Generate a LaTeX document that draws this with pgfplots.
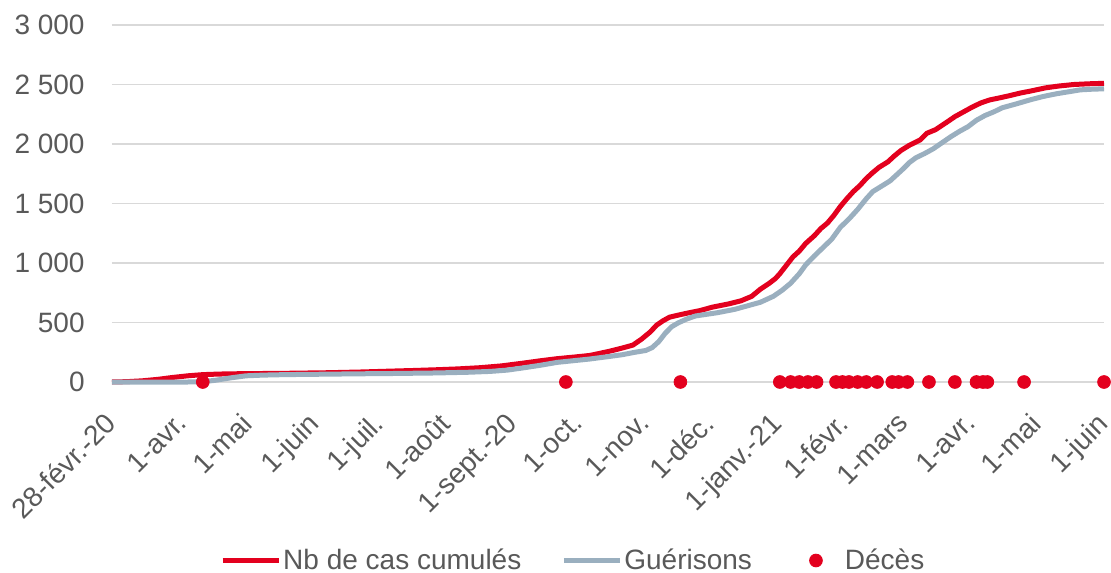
\documentclass[border=0pt]{standalone}
\usepackage{pgfplots}
\pgfplotsset{compat=1.18}
\usepackage{fontspec}
\setmainfont{Liberation Sans}
\definecolor{cred}{RGB}{227,0,30}
\definecolor{cgray}{RGB}{154,175,191}
\definecolor{ctext}{RGB}{89,89,89}
\definecolor{cgrid}{RGB}{217,217,217}
\begin{document}
\begin{tikzpicture}
\useasboundingbox (-56pt,-95pt) rectangle (499.5pt,191pt);
\begin{axis}[
  at={(0,0)}, anchor=south west,
  scale only axis, width=496pt, height=178.5pt,
  xmin=0, xmax=459, ymin=0, ymax=3000,
  clip=false,
  axis line style={draw=none},
  tick style={draw=none},
  ymajorgrids, grid style={cgrid, line width=0.75pt},
  ytick={0,500,1000,1500,2000,2500,3000},
  xtick={0,33,63,94,124,155,186,216,247,277,308,339,367,398,428,459},
  xticklabels={28-févr.-20,1-avr.,1-mai,1-juin,1-juil.,1-août,1-sept.-20,1-oct.,1-nov.,1-déc.,1-janv.-21,1-févr.,1-mars,1-avr.,1-mai,1-juin},
  /pgf/number format/assume math mode=true,
  /pgf/number format/1000 sep={\ },
  ticklabel style={font=\fontsize{14}{16}\selectfont, text=ctext},
  yticklabel style={anchor=east, inner sep=0pt, xshift=-13.5pt},
  xticklabel style={inner sep=0pt, outer xsep=13.5pt, outer ysep=7.2pt, anchor=north east, rotate=45},
  legend columns=3,
  legend style={at={(axis description cs:0.465,-0.500)}, anchor=center, draw=none, fill=none,
    font=\fontsize{14}{16}\selectfont, text=ctext,
    /tikz/every even column/.append style={column sep=19pt},
    nodes={inner sep=1pt}},
]
\addplot[cred, line width=2.5pt, line join=round,
  legend image code/.code={\draw[cred, line width=2.5pt] (0pt,0pt) -- (28pt,0pt);}] coordinates {
(0,0) (7,3) (14,10) (21,22) (28,38) (35,52) (42,62) (50,67) (60,70) (80,73)
(100,78) (115,84) (128,91) (140,97) (150,103) (160,110) (170,120) (180,135)
(190,158) (198,178) (206,196) (214,210) (221,223) (226,242) (231,262) (236,285)
(241,310) (245,360) (249,420) (252,478) (255,515) (258,545) (262,562) (266,578)
(272,600) (278,630) (285,655) (291,682) (296,720) (300,780) (304,828) (307,870)
(309,910) (312,980) (315,1050) (318,1100) (321,1165) (325,1230) (328,1290)
(331,1335) (334,1400) (337,1475) (340,1540) (343,1600) (346,1650) (349,1710)
(352,1760) (355,1805) (359,1850) (362,1900) (365,1945) (369,1990) (374,2035)
(377,2090) (381,2120) (386,2180) (390,2230) (394,2270) (398,2310) (402,2345)
(406,2370) (410,2385) (415,2405) (420,2427) (425,2445) (432,2472) (438,2487)
(445,2500) (452,2506) (459,2510)
};
\addlegendentry{Nb de cas cumulés}
\addplot[cgray, line width=2.5pt, line join=round,
  legend image code/.code={\draw[cgray, line width=2.5pt] (0pt,0pt) -- (28pt,0pt);}] coordinates {
(0,0) (20,0) (35,0) (42,2) (48,15) (55,35) (62,52) (70,58) (80,62) (100,66)
(115,69) (128,71) (150,76) (165,82) (175,89) (183,100) (190,118) (198,140)
(206,165) (214,180) (221,193) (229,212) (236,229) (242,250) (247,265) (250,290)
(253,340) (256,410) (259,465) (262,497) (266,530) (270,555) (280,582) (288,610)
(294,640) (300,670) (306,720) (310,770) (314,830) (318,910) (321,985) (325,1060)
(329,1130) (333,1200) (337,1300) (341,1370) (345,1450) (349,1540) (352,1600)
(356,1645) (360,1690) (363,1740) (366,1790) (369,1845) (372,1885) (376,1920)
(380,1960) (384,2010) (388,2060) (392,2105) (396,2145) (400,2200) (404,2240)
(408,2270) (412,2305) (418,2335) (425,2372) (431,2400) (437,2422) (443,2440)
(448,2455) (453,2460) (459,2464)
};
\addlegendentry{Guérisons}
\addplot[only marks, mark=*, mark size=3.2pt, cred, mark options={draw=cred, fill=cred},
  legend image code/.code={\fill[cred] (12pt,0pt) circle (3.2pt); \path[draw=none,fill=none] (0pt,0pt) -- (25.5pt,0pt);}] coordinates {
(42,0) (210,0) (263,0) (309,0) (314,0) (318,0) (322,0) (326,0) (335,0) (338,0)
(341,0) (345,0) (349,0) (354,0) (361,0) (364,0) (368,0) (378,0) (390,0) (400,0)
(403,0) (405,0) (422,0) (459,0)
};
\addlegendentry{Décès}
\end{axis}
\end{tikzpicture}
\end{document}
